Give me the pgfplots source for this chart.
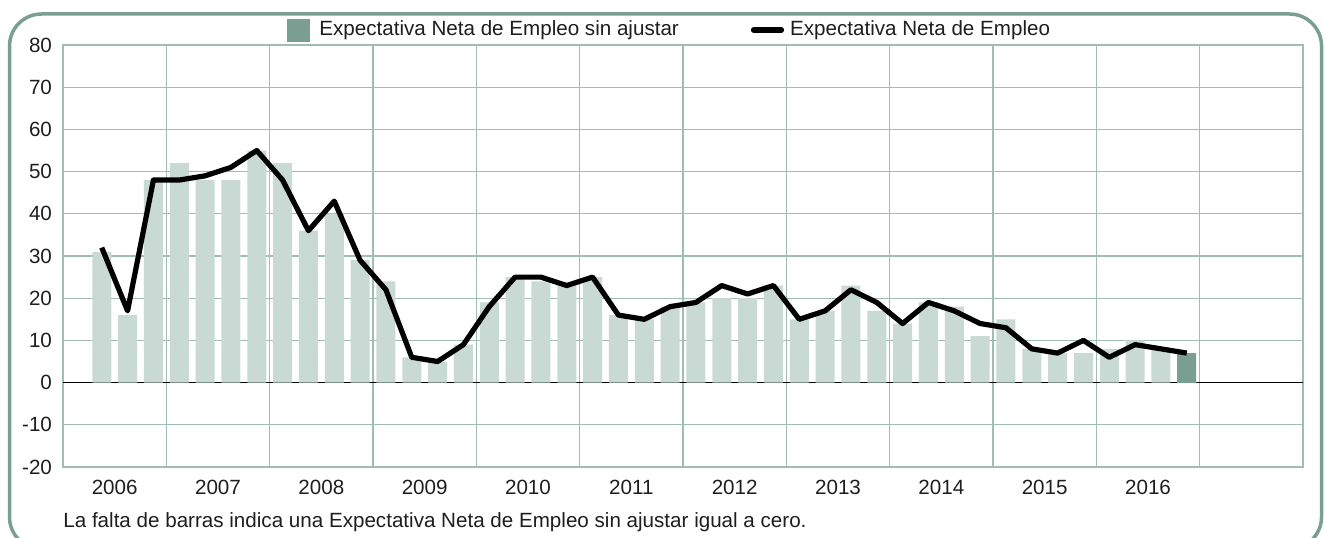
\documentclass[border=0pt]{standalone}
\usepackage{fontspec}
\setmainfont{Liberation Sans}
\usepackage{pgfplots}
\pgfplotsset{compat=1.18}
\usepackage{pgfplotstable}

\definecolor{lightbar}{RGB}{201,217,212}
\definecolor{darkbar}{RGB}{123,158,146}
\definecolor{gridcol}{RGB}{160,189,179}
\definecolor{framecol}{RGB}{123,158,146}
\definecolor{txt}{RGB}{30,30,30}

% trimestre, sin ajustar (barras), ajustada (linea)
\pgfplotstableread{
k  bar  line
0  31   32
1  16   17
2  48   48
3  52   48
4  48   49
5  48   51
6  55   55
7  52   48
8  36   36
9  40   43
10 29   29
11 24   22
12 6    6
13 5    5
14 9    9
15 19   18
16 25   25
17 24   25
18 23   23
19 25   25
20 16   16
21 15   15
22 18   18
23 19   19
24 20   23
25 20   21
26 23   23
27 15   15
28 17   17
29 23   22
30 17   19
31 14   14
32 19   19
33 18   17
34 11   14
35 15   13
36 8    8
37 7    7
38 7    10
39 8    6
40 10   9
41 8    8
42 7    7
}\datos

\pgfplotstableread{
k  bar
42 7
}\ultimo

\begin{document}
\begin{tikzpicture}
\useasboundingbox (0,0) rectangle (662.5pt,268.5pt);
\begin{scope}
\clip (0,0) rectangle (662.5pt,268.5pt);
\draw[framecol, line width=1.75pt, rounded corners=16pt]
  (4.75pt,-6pt) rectangle (660.75pt,261.5pt);
\end{scope}
\begin{axis}[
  at={(31.5pt,35pt)}, anchor=south west,
  width=620pt, height=211pt, scale only axis,
  xmin=-1.5, xmax=46.5, ymin=-20, ymax=80,
  axis line style={gridcol, line width=0.6pt},
  xtick={0.5,4.5,...,40.5},
  xticklabels={2006,2007,2008,2009,2010,2011,2012,2013,2014,2015,2016},
  minor xtick={2.5,6.5,...,42.5},
  xminorgrids, minor grid style={gridcol, line width=0.6pt},
  ytick={-20,-10,...,80},
  yticklabels={-20,-10,0,10,20,30,40,50,60,70,80},
  ymajorgrids, major grid style={gridcol, line width=0.6pt},
  extra y ticks={0}, extra y tick labels={},
  extra y tick style={major grid style={black, line width=0.6pt}},
  major tick length=0pt, minor tick length=0pt,
  tick label style={font=\fontsize{10.3}{12}\selectfont, text=txt},
  xticklabel style={yshift=-3pt},
  yticklabel style={xshift=-2pt},
  legend columns=2,
  legend style={at={(rel axis cs:0.1806,1.0355)}, anchor=west,
    draw=none, fill=none, inner sep=0pt,
    font=\fontsize{10.3}{12}\selectfont, text=txt,
    /tikz/every even column/.append style={column sep=34pt}},
  legend cell align=left,
  clip=false,
]
\addplot[ybar, bar width=9.5pt, bar shift=0pt, fill=lightbar, draw=none,
  forget plot] table[x=k, y=bar] {\datos};
\addplot[ybar, bar width=9.5pt, bar shift=0pt, fill=darkbar, draw=none,
  legend image code/.code={\fill[darkbar] (0pt,-5.75pt) rectangle (11.5pt,5.75pt);
    \path (14pt,0pt);}]
  table[x=k, y=bar] {\ultimo};
\addlegendentry{Expectativa Neta de Empleo sin ajustar}
\addplot[black, line width=2.6pt, line join=round, mark=none,
  legend image code/.code={\draw[black, line width=2.6pt, line cap=round] (0pt,0pt) -- (14pt,0pt);
    \path (15pt,0pt);}]
  table[x=k, y=line] {\datos};
\addlegendentry{Expectativa Neta de Empleo}
\end{axis}
\node[anchor=base west, inner sep=0pt, text=txt, font=\fontsize{10.3}{12}\selectfont]
  at (31.5pt,5pt) {La falta de barras indica una Expectativa Neta de Empleo sin ajustar igual a cero.};
\end{tikzpicture}
\end{document}
